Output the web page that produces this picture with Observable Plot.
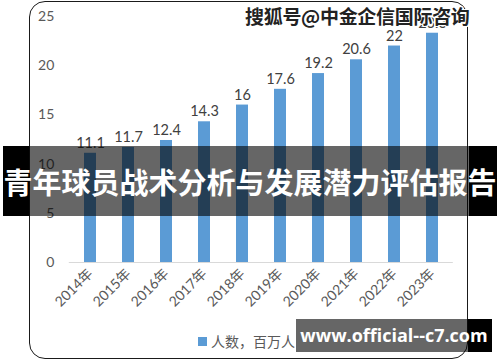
<!DOCTYPE html>
<html>
<head>
<meta charset="utf-8">
<script src="https://cdn.jsdelivr.net/npm/d3@7"></script>
<script src="https://cdn.jsdelivr.net/npm/@observablehq/plot@0.6"></script>
<style>
  html, body { margin: 0; padding: 0; background: #fff; }
  #wrap { position: relative; width: 500px; height: 362px; overflow: hidden; font-family: Lato, "Noto Sans CJK SC", sans-serif; }
  #chart { position: absolute; left: 0; top: 0; }
  .frame { position: absolute; left: 29px; top: 1px; width: 437px; height: 356px; border: 1.5px solid #1a1a1a; border-radius: 16px; box-sizing: content-box; pointer-events: none; }
  .legend { position: absolute; left: 198px; top: 331px; font-size: 14px; color: #595959; font-family: "Noto Sans CJK SC", sans-serif; display: flex; align-items: center; }
  .legend .sw { width: 9px; height: 9px; background: #5B9BD5; margin-right: 4px; }
  .wm { position: absolute; left: 245px; top: 2px; font-size: 19px; font-weight: bold; color: #222; font-family: "Noto Sans CJK SC", sans-serif; letter-spacing: -0.3px;
        text-shadow: 1px 0 0 #fff, -1px 0 0 #fff, 0 1px 0 #fff, 0 -1px 0 #fff, 1px 1px 0 #fff, -1px -1px 0 #fff, 1px -1px 0 #fff, -1px 1px 0 #fff; white-space: nowrap; }
  .band { position: absolute; }
  .banner-text { position: absolute; left: 0; width: 500px; top: 146px; height: 70px; line-height: 70px; text-align: center; color: #fff; font-weight: bold; font-size: 29px; font-family: "Noto Sans CJK SC", sans-serif; white-space: nowrap; }
  .url { position: absolute; left: 296px; width: 196px; top: 319px; height: 33px; line-height: 33px; text-align: center; color: #fff; font-weight: bold; font-size: 18px; font-family: "Open Sans", sans-serif; white-space: nowrap; }
</style>
</head>
<body>
<div id="wrap">
  <div id="chart"></div>
  <div class="frame"></div>
  <div class="legend"><span class="sw"></span><span>人数，百万人</span></div>
  <div class="wm">搜狐号@中金企信国际咨询</div>
  <div class="band" style="left:3px;width:26px;top:146px;height:70px;background:#000"></div>
  <div class="band" style="left:29px;width:440px;top:146px;height:70px;background:rgba(0,0,0,0.6)"></div>
  <div class="band" style="left:469px;width:28px;top:146px;height:70px;background:#000"></div>
  <div class="banner-text">青年球员战术分析与发展潜力评估报告</div>
  <div class="band" style="left:296px;width:172px;top:319px;height:33px;background:rgba(0,0,0,0.6)"></div>
  <div class="band" style="left:468px;width:24px;top:319px;height:33px;background:#000"></div>
  <div class="url">www.official--c7.com</div>
</div>
<script>
const years = ["2014年","2015年","2016年","2017年","2018年","2019年","2020年","2021年","2022年","2023年"];
const values = [11.1, 11.7, 12.4, 14.3, 16, 17.6, 19.2, 20.6, 22, 23.3];
const yTicks = [0, 5, 10, 15, 20, 25];

const data = years.map((y, i) => ({year: y, value: values[i]}));

const chart = Plot.plot({
  width: 500,
  height: 330,
  marginLeft: 68.8,
  marginRight: 47.2,
  marginTop: 16,
  marginBottom: 68,
  style: {fontFamily: "Lato, 'Noto Sans CJK SC', sans-serif", background: "transparent"},
  x: {domain: years, paddingInner: 0.6875, paddingOuter: 0.344},
  y: {domain: [0, 25]},
  marks: [
    Plot.axisY({ticks: yTicks, tickSize: 0, tickPadding: 15, fontSize: 14, color: "#595959", label: null}),
    Plot.axisX({tickSize: 0, tickRotate: -45, tickPadding: 9, fontSize: 14, color: "#595959", label: null,
                fontFamily: "Lato, 'Noto Sans CJK SC', sans-serif"}),
    Plot.barY(data, {x: "year", y: "value", fill: "#5B9BD5"}),
    Plot.ruleY([0], {stroke: "#d9d9d9", strokeWidth: 1.2}),
    Plot.text(data, {x: "year", y: "value", text: d => String(d.value), dy: -10, fontSize: 14.5, fill: "#404040"})
  ]
});
document.getElementById("chart").appendChild(chart);
</script>
</body>
</html>
